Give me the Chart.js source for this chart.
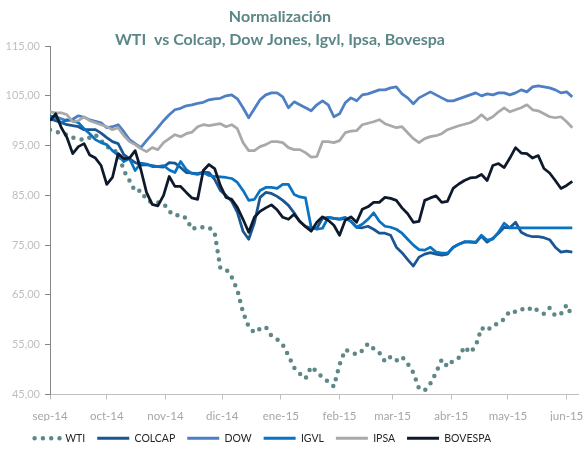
<!DOCTYPE html>
<html><head><meta charset="utf-8">
<script src="https://cdn.jsdelivr.net/npm/chart.js@4.4.1/dist/chart.umd.min.js"></script>
<style>html,body{margin:0;padding:0;background:#fff}#wrap{width:584px;height:456px}</style>
</head><body><div id="wrap"><canvas id="c" width="584" height="456"></canvas></div>
<script>
// days since 1 Sep 2014
const days = [0,3,6,9,12,15,18,21,24,27,30,33,36,39,42,45,48,51,54,57,60,63,66,69,72,75,78,81,84,87,90,93,96,99,102,105,108,111,114,117,120,123,126,129,132,135,138,141,144,147,150,153,156,159,162,165,168,171,174,177,180,183,186,189,192,195,198,201,204,207,210,213,216,219,222,225,228,231,234,237,240,243,246,249,252,255,258,261,264,267,270,273,276];
const monthTickDays = [0,30,61,91,122,153,181,212,242,273];
const monthTickLabels = ['sep-14','oct-14','nov-14','dic-14','ene-15','feb-15','mar-15','abr-15','may-15','jun-15'];
const yTicks = [45,55,65,75,85,95,105,115];
const seriesNames = ['WTI','COLCAP','DOW','IGVL','IPSA','BOVESPA'];

const wti = [98.2,97.8,97.5,97.2,96.6,96.4,96.1,96.6,97.2,96.0,94.8,94.2,93.6,90.0,88.0,85.8,86.0,84.1,83.6,83.6,83.4,81.8,80.9,81.1,80.4,78.2,78.7,78.6,78.6,77.5,70.4,70.2,68.6,66.0,61.5,58.6,57.4,58.2,58.6,56.8,56.1,55.0,52.8,50.4,49.2,48.2,50.6,49.6,48.4,47.6,46.6,51.0,54.0,53.6,53.0,53.8,55.2,54.2,53.4,51.6,52.6,51.8,52.6,51.2,49.4,46.2,45.8,47.2,49.4,52.0,50.6,51.8,52.4,54.6,53.4,54.8,58.4,57.8,59.0,59.2,60.2,61.8,61.6,62.2,61.8,62.6,61.8,61.2,62.4,60.8,61.2,63.0,60.6];
const colcap = [100.4,100.0,99.6,99.2,99.0,98.8,98.2,98.2,98.2,97.5,96.6,95.8,95.4,93.2,92.4,91.6,91.1,91.2,91.0,90.8,90.7,91.6,91.5,90.6,89.6,89.5,89.4,89.7,89.6,88.2,86.0,85.0,83.8,81.6,77.8,76.2,79.5,84.6,85.6,85.4,84.8,84.0,83.0,81.5,79.7,78.8,78.4,78.4,80.4,80.6,80.4,80.2,80.4,79.8,78.6,78.5,78.8,78.2,77.4,77.4,77.0,74.6,73.5,72.1,70.8,72.6,73.2,73.5,73.2,73.0,73.2,74.6,75.2,75.7,75.6,75.5,76.8,75.6,76.4,77.4,78.6,78.5,79.6,77.6,77.0,76.7,76.7,76.5,76.1,74.6,73.6,73.8,73.6];
const dow = [100.6,100.8,100.4,100.0,100.3,101.0,100.7,100.2,99.9,99.6,98.6,98.8,99.2,97.8,96.2,95.4,94.6,96.0,97.3,98.6,100.0,101.2,102.2,102.5,103.0,103.2,103.5,103.7,104.2,104.4,104.5,105.0,105.2,104.4,102.6,100.6,102.4,104.2,105.2,105.6,105.6,104.8,102.6,103.8,103.2,102.6,102.0,103.2,104.0,103.2,100.8,101.4,103.6,104.6,104.0,105.2,105.4,105.8,106.2,106.2,106.6,106.8,105.4,104.6,103.4,104.6,105.2,105.8,105.2,104.6,104.0,104.0,104.4,104.8,105.2,105.6,105.0,105.4,105.2,105.6,105.6,105.2,105.6,106.2,105.8,106.8,107.0,106.8,106.6,106.2,105.6,105.8,104.8];
const igvl = [101.0,100.6,99.6,100.2,100.0,99.6,98.4,97.4,96.2,95.6,95.2,94.0,93.1,91.8,92.4,90.0,91.5,91.3,90.8,90.8,91.0,90.1,89.6,91.8,90.2,89.4,89.2,89.6,89.0,88.8,88.7,88.6,88.4,87.6,86.0,84.0,84.2,86.0,86.6,86.6,86.4,87.2,87.2,85.2,84.7,84.5,78.6,78.2,78.4,80.6,80.4,80.3,80.6,79.8,78.6,79.2,80.2,81.5,79.8,78.8,78.6,78.2,77.4,76.2,75.0,74.1,74.0,74.6,73.6,73.4,73.4,74.5,75.2,75.6,75.7,75.6,77.0,76.0,76.2,77.6,79.4,78.5,78.5,78.5,78.5,78.5,78.5,78.5,78.5,78.5,78.5,78.5,78.5];
const ipsa = [101.8,101.6,101.6,101.2,99.8,100.0,100.8,100.0,99.6,99.2,98.8,98.2,98.6,97.0,95.8,95.2,94.4,93.8,94.6,94.2,95.6,96.4,97.2,96.8,97.4,97.7,98.8,99.2,99.0,99.2,99.4,98.8,99.2,98.4,95.6,94.0,94.0,94.8,95.2,95.8,95.8,95.6,94.6,94.2,94.2,93.6,92.7,92.8,95.8,95.8,95.6,96.0,97.6,97.9,98.0,99.2,99.5,99.8,100.2,99.4,99.0,98.6,98.8,97.6,96.4,95.6,96.4,96.8,97.0,97.4,98.2,98.6,99.0,99.3,99.6,100.2,101.2,100.2,100.8,101.8,102.6,101.8,102.2,102.6,103.2,102.2,102.0,101.4,100.8,100.6,100.8,99.8,98.6];
const bovespa = [100.0,101.4,98.6,96.6,93.4,94.8,95.4,93.1,92.5,91.0,87.2,88.6,93.4,92.4,92.5,94.0,90.2,85.6,83.2,82.9,85.0,88.8,86.8,86.8,85.6,84.5,84.2,90.0,91.2,90.4,87.0,84.6,84.2,82.6,80.2,77.6,80.6,81.8,82.5,83.1,82.1,80.6,80.2,81.2,79.8,78.7,77.8,79.6,80.7,80.0,79.0,77.0,80.0,80.7,79.6,82.2,82.7,83.6,83.6,84.6,84.4,84.0,82.5,81.3,79.6,79.8,84.0,84.5,84.9,83.6,83.8,86.4,87.3,88.0,88.5,88.6,89.2,88.0,91.0,91.4,90.6,92.5,94.6,93.5,93.4,92.5,93.0,90.4,89.5,88.0,86.4,87.0,87.8];

const seriesValues = [wti, colcap, dow, igvl, ipsa, bovespa];
const colors = ['#5e8787','#1b5592','#4e7fc4','#0a72c2','#a9a9a9','#0e1a2b'];

const datasets = seriesNames.map((name, k) => {
  const ds = {
    label: name,
    data: days.map((d, i) => ({x: d, y: seriesValues[k][i]})),
    borderColor: colors[k],
    backgroundColor: colors[k],
    borderWidth: 2.75,
    pointRadius: 0,
    tension: 0,
    borderJoinStyle: 'round',
    order: seriesNames.length - 1 - k
  };
  if (name === 'WTI') {
    ds.borderWidth = 4.5;
    ds.borderDash = [0, 8.3];
    ds.borderCapStyle = 'round';
  }
  return ds;
});

const shiftPlugin = {
  id: 'shift',
  afterLayout(chart) {
    const t = chart.titleBlock;
    if (t) { t.left -= 9; t.right -= 9; }
    const lg = chart.legend;
    if (lg) { lg.left = 16; }
  }
};

Chart.defaults.font.family = 'Lato';
new Chart(document.getElementById('c'), {
  type: 'line',
  data: { datasets },
  plugins: [shiftPlugin],
  options: {
    responsive: false,
    animation: false,
    devicePixelRatio: 1,
    layout: { padding: { left: 0, right: 6, top: 0, bottom: 2.5 } },
    plugins: {
      tooltip: { enabled: false },
      title: {
        display: true,
        text: ['Normalización', 'WTI  vs Colcap, Dow Jones, Igvl, Ipsa, Bovespa'],
        color: '#5b8786',
        font: { family: 'Lato', size: 16, weight: 'bold', lineHeight: 1.44 },
        padding: { top: 5.5, bottom: -5.5 }
      },
      legend: {
        position: 'bottom',
        align: 'start',
        labels: {
          usePointStyle: true,
          pointStyle: 'line',
          pointStyleWidth: 32,
          padding: 12,
          color: '#262626',
          font: { family: 'Lato', size: 10.5 },
          sort: (a, b) => a.datasetIndex - b.datasetIndex,
          generateLabels: (chart) => {
            const items = Chart.defaults.plugins.legend.labels.generateLabels(chart);
            items.forEach(it => {
              const ds = chart.data.datasets[it.datasetIndex];
              it.strokeStyle = ds.borderColor;
              it.fillStyle = ds.borderColor;
              it.lineWidth = ds.borderWidth === 4.5 ? 4.5 : 3;
              it.lineDash = ds.borderDash || [];
              it.lineDashOffset = ds.borderDash ? 1.7 : 0;
              it.lineCap = ds.borderCapStyle || 'butt';
              it.pointStyle = 'line';
            });
            return items;
          }
        }
      }
    },
    scales: {
      x: {
        type: 'linear',
        min: 0,
        max: 279,
        afterBuildTicks: (s) => { s.ticks = monthTickDays.map(v => ({ value: v })); },
        afterFit: (s) => { s.height = 26.5; s.paddingLeft = 0; s.paddingRight = 0; },
        ticks: {
          autoSkip: false,
          maxRotation: 0,
          padding: 9.5,
          color: '#a6a6a6',
          font: { family: 'Lato', size: 11.5 },
          callback: (v) => { const i = monthTickDays.indexOf(v); return i >= 0 ? monthTickLabels[i] : ''; }
        },
        grid: { drawOnChartArea: false, drawTicks: true, tickLength: 5, color: '#bfbfbf' },
        border: { display: true, color: '#bfbfbf', width: 1 }
      },
      y: {
        min: 45,
        max: 115,
        afterBuildTicks: (s) => { s.ticks = yTicks.map(v => ({ value: v })); },
        afterFit: (s) => { s.width = 50; s.paddingTop = 0; s.paddingBottom = 0; },
        ticks: {
          padding: 5,
          color: '#bfbfbf',
          font: { family: 'Lato', size: 11 },
          callback: (v) => v.toFixed(2).replace('.', ',')
        },
        grid: { drawOnChartArea: false, drawTicks: true, tickLength: 5, color: '#868686' },
        border: { display: true, color: '#868686', width: 1 }
      }
    }
  }
});
</script>
</body></html>
